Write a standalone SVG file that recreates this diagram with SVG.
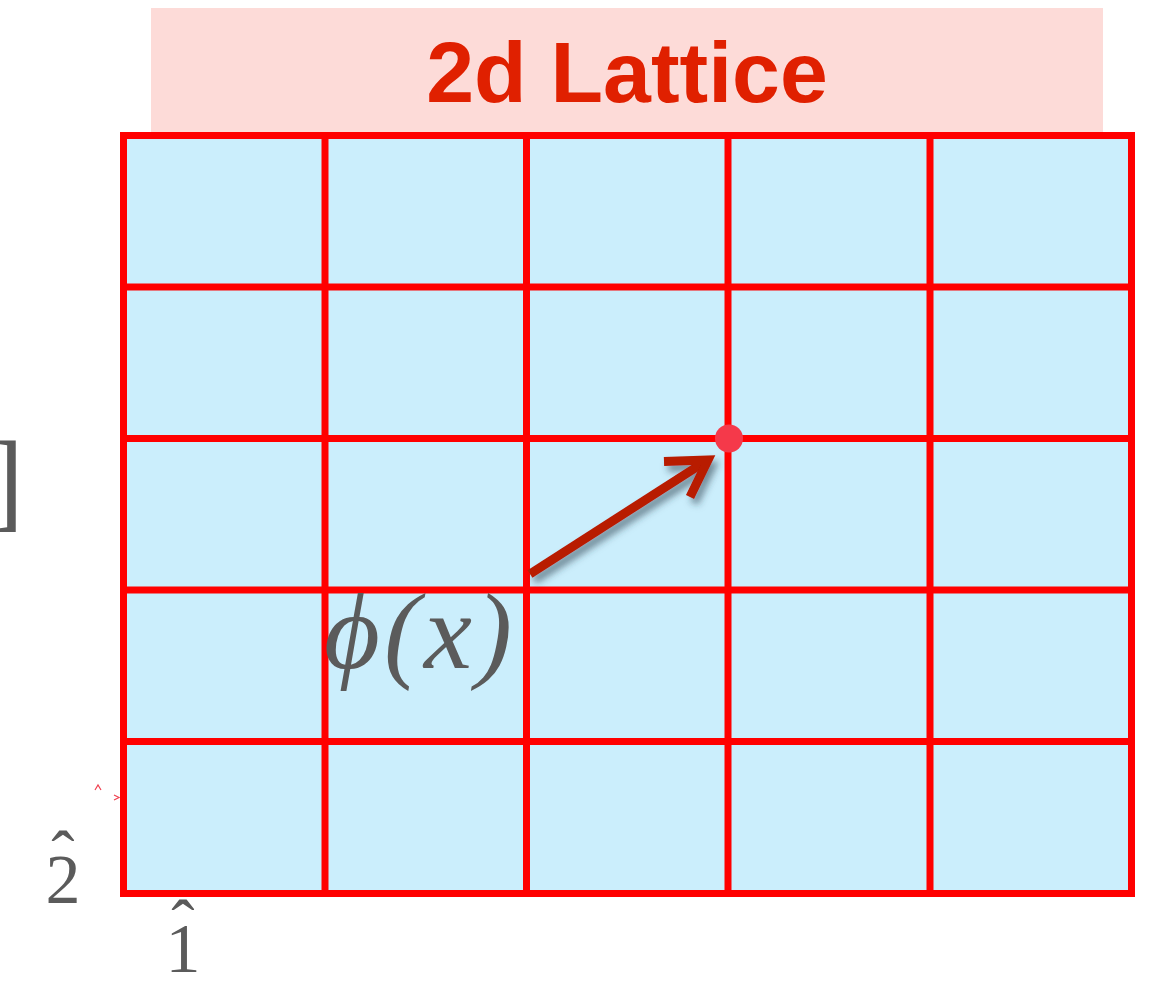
<svg xmlns="http://www.w3.org/2000/svg" width="1152" height="982" viewBox="0 0 1152 982">
<style>
.grid{stroke:#ff0000;stroke-width:7;fill:none}
.math{font-family:"Liberation Serif","Times New Roman",serif;fill:#5b5b5b}
.title{font-family:"Liberation Sans",Arial,sans-serif;font-weight:bold;fill:#e02000}
.arrow{stroke:#b81a00;stroke-width:9;fill:none}
.tiny{stroke:#f04050;stroke-width:1.2;fill:none}
</style>
<defs>
<filter id="sh" x="-20%" y="-20%" width="140%" height="160%">
<feDropShadow dx="4" dy="6" stdDeviation="3.5" flood-color="#2a3a48" flood-opacity="0.55"/>
</filter>
</defs>
<rect width="1152" height="982" fill="#ffffff"/>
<g id="title">
<rect x="151" y="8" width="952" height="126" fill="#fddbd8"/>
<text class="title" x="627" y="102" font-size="86" text-anchor="middle">2d Lattice</text>
</g>
<g id="lattice">
<rect x="123.5" y="135.5" width="1008" height="758" fill="#cbeefc"/>
<path class="grid" d="M123.5 135.5H1131.5V893.5H123.5Z M325 135.5V893.5 M526.5 135.5V893.5 M728 135.5V893.5 M930 135.5V893.5 M123.5 287H1131.5 M123.5 438.5H1131.5 M123.5 590H1131.5 M123.5 741.5H1131.5"/>
</g>
<g id="site">
<circle cx="729" cy="438.5" r="14" fill="#f5394a"/>
</g>
<g id="connectors">
<g filter="url(#sh)">
<line class="arrow" x1="530" y1="574" x2="706" y2="461"/>
<polyline class="arrow" points="664,461.5 708,460 690,497" stroke-linejoin="miter"/>
</g>
<polyline class="tiny" points="95,790 98,785 101,790"/>
<polyline class="tiny" points="114,795 119,797.5 114,800"/>
</g>
<g id="labels">
<text class="math" x="420" y="668" font-size="108" font-style="italic" text-anchor="middle" letter-spacing="4">ϕ(x)</text>
<text class="math" x="45.5" y="903" font-size="70">2<tspan dx="-29.2" dy="-24">ˆ</tspan></text>
<text class="math" x="165.5" y="972" font-size="70">1<tspan dx="-29.2" dy="-24">ˆ</tspan></text>
<text class="math" x="24" y="517" font-size="110" text-anchor="end">]</text>
</g>
</svg>
